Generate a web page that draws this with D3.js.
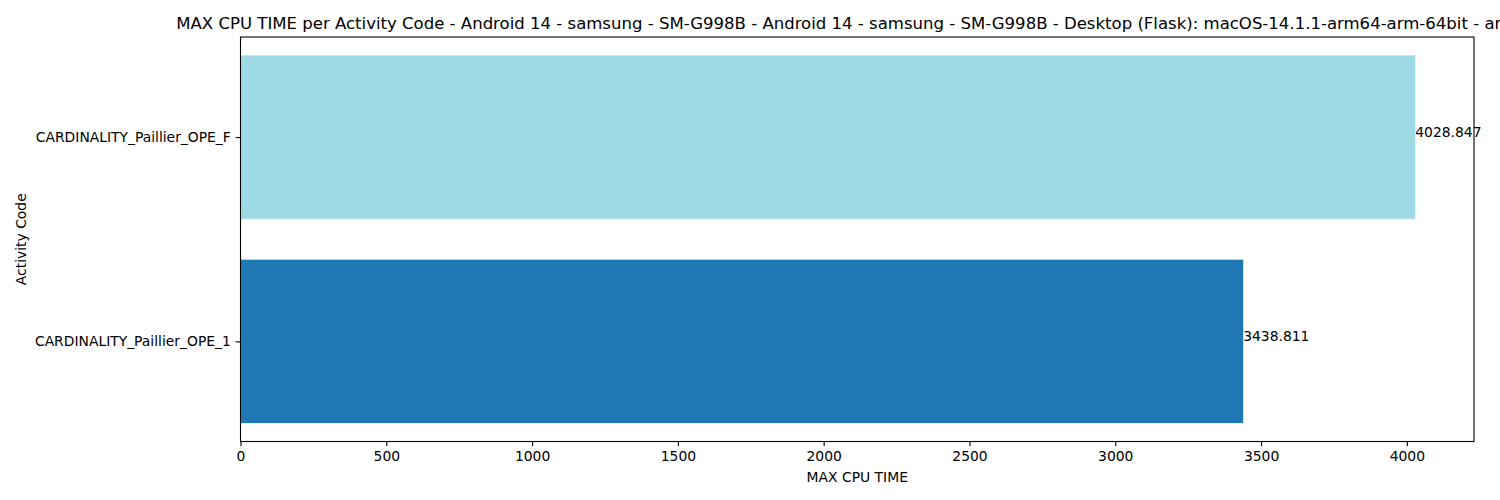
<!DOCTYPE html>
<html>
<head>
<meta charset="utf-8">
<script src="https://cdn.jsdelivr.net/npm/d3@7"></script>
<style>
  html, body { margin: 0; padding: 0; background: #fff; }
  svg { display: block; font-family: "DejaVu Sans", sans-serif; }
</style>
</head>
<body>
<svg id="chart" width="1500" height="500"></svg>
<script>
const categories = ["CARDINALITY_Paillier_OPE_1", "CARDINALITY_Paillier_OPE_F"];
const values = [3438.811, 4028.847];
const barColors = ["#1f77b4", "#9edae5"];
const valueLabels = ["3438.811", "4028.847"];
const xTicks = [0, 500, 1000, 1500, 2000, 2500, 3000, 3500, 4000];
const titleText = "MAX CPU TIME per Activity Code - Android 14 - samsung - SM-G998B - Android 14 - samsung - SM-G998B - Desktop (Flask): macOS-14.1.1-arm64-arm-64bit - arm64";
const xLabel = "MAX CPU TIME";
const yLabel = "Activity Code";

(function () {
const svg = d3.select("#chart");
const mLeft = 240.5, mRight = 1474, mTop = 37, mBottom = 441.5;

const xMax = d3.max(values) * 1.05;
const x = d3.scaleLinear().domain([0, xMax]).range([mLeft, mRight]);
// matplotlib-like categorical y: positions 0..n-1, bar height 0.8, margins 5%
const n = categories.length;
const lo = -0.4, hi = (n - 1) + 0.4, pad = (hi - lo) * 0.05;
const y = d3.scaleLinear().domain([lo - pad, hi + pad]).range([mBottom, mTop]);

const tickFont = 13.89;

// bars
svg.append("g").selectAll("rect").data(values).join("rect")
  .attr("x", x(0))
  .attr("y", (d, i) => y(i + 0.4))
  .attr("width", d => x(d) - x(0))
  .attr("height", (d, i) => y(i - 0.4) - y(i + 0.4))
  .attr("fill", (d, i) => barColors[i]);

// value labels
svg.append("g").selectAll("text").data(values).join("text")
  .attr("x", d => x(d))
  .attr("y", (d, i) => y(i))
  .attr("font-size", tickFont)
  .attr("fill", "#000")
  .text((d, i) => valueLabels[i]);

// x axis
const xAxis = d3.axisBottom(x).tickValues(xTicks).tickFormat(d3.format("d"))
  .tickSize(4.86).tickPadding(4.86);
const gx = svg.append("g").attr("transform", `translate(0,${mBottom})`).call(xAxis);
gx.select(".domain").remove();
gx.selectAll(".tick line").attr("stroke", "#000").attr("stroke-width", 1.1);
gx.selectAll(".tick text").attr("font-size", tickFont).attr("fill", "#000")
  .attr("font-family", "DejaVu Sans");

// y axis
const yAxis = d3.axisLeft(y).tickValues(d3.range(n)).tickFormat(i => categories[i])
  .tickSize(4.86).tickPadding(4.86);
const gy = svg.append("g").attr("transform", `translate(${mLeft},0)`).call(yAxis);
gy.select(".domain").remove();
gy.selectAll(".tick line").attr("stroke", "#000").attr("stroke-width", 1.1);
gy.selectAll(".tick text").attr("font-size", tickFont).attr("fill", "#000")
  .attr("font-family", "DejaVu Sans");

// spines
svg.append("rect")
  .attr("x", mLeft).attr("y", mTop)
  .attr("width", mRight - mLeft).attr("height", mBottom - mTop)
  .attr("fill", "none").attr("stroke", "#000").attr("stroke-width", 1.1);

// axis labels
svg.append("text")
  .attr("x", (mLeft + mRight) / 2).attr("y", 482)
  .attr("text-anchor", "middle").attr("font-size", tickFont)
  .text(xLabel);
svg.append("text")
  .attr("transform", `translate(25.5,${(mTop + mBottom) / 2}) rotate(-90)`)
  .attr("text-anchor", "middle").attr("font-size", tickFont)
  .text(yLabel);

// title (long, runs past the right edge as in the original figure)
svg.append("text")
  .attr("x", (mLeft + mRight) / 2).attr("y", 29)
  .attr("text-anchor", "middle").attr("font-size", 16.55)
  .text(titleText);
})();
</script>
</body>
</html>
